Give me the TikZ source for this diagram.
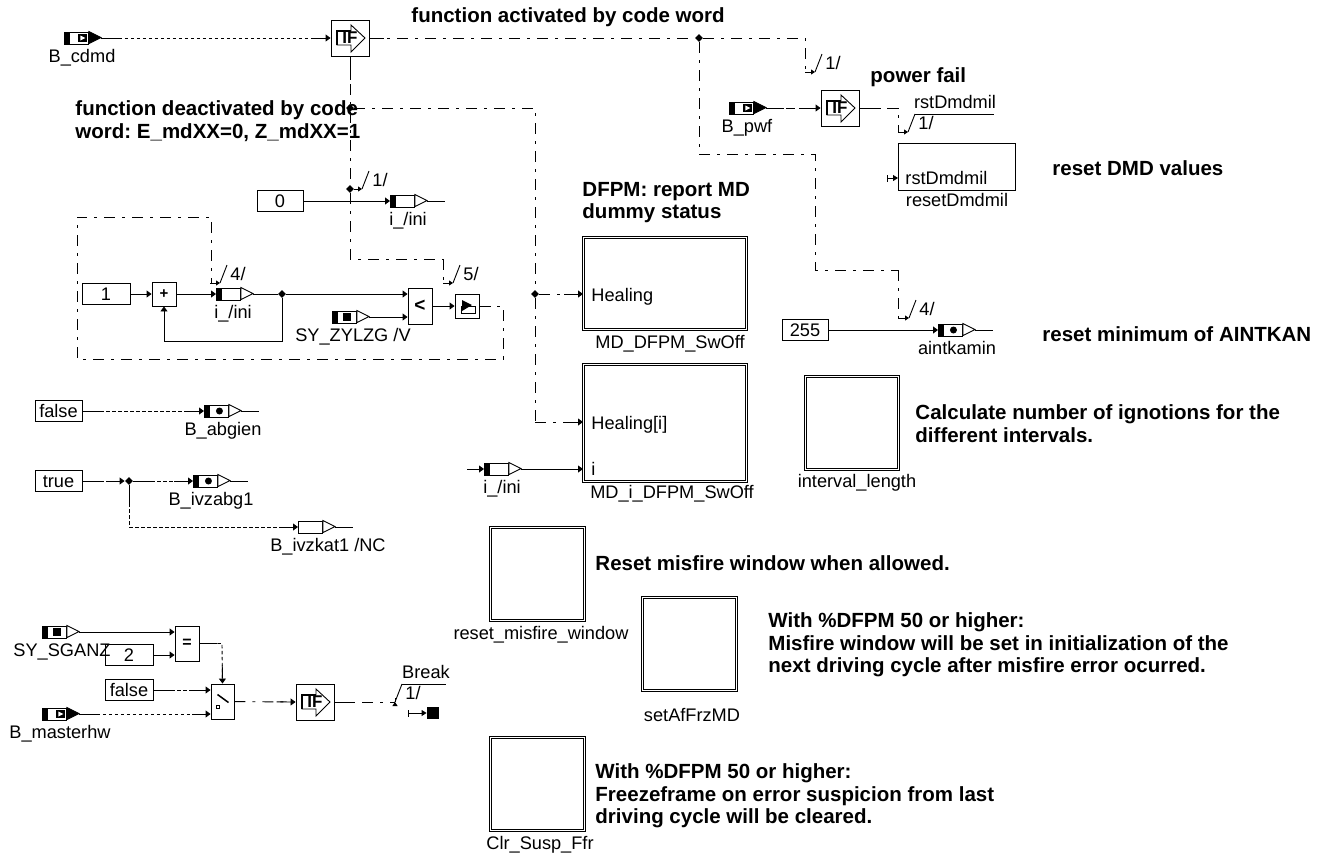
\documentclass[tikz,border=0pt]{standalone}
\usepackage{fontspec}
\setmainfont{Liberation Sans}
\usetikzlibrary{arrows.meta,shapes.geometric,calc}
\newcommand{\sigpin}[6][white]{%
  \node[pinbody] (#2) at (#3,#4) {};
  \draw[fill=#1] (#2.north east) -- ++(12,6) -- ++(-12,6) -- cycle;
  \coordinate (#2-out) at ($(#2.east)+(12,0)$);
  \coordinate (#2-tail) at ($(#2.east)+(30,0)$);
  \node[lbl] (#2-lbl) at (#5,#4+18) {#6};
}
\newcommand{\barmark}[1]{\fill (#1.north west) rectangle ($(#1.south west)+(6,0)$);}
\newcommand{\dotmark}[1]{\fill ($(#1.center)+(3,0)$) circle (3.5pt);}
\newcommand{\sqmark}[1]{\fill ($(#1.center)+(-1,-4)$) rectangle ++(8,8);}
\newcommand{\tipmark}[1]{\fill ($(#1.center)+(2,-4)$) rectangle ++(9,8);
  \fill[white] ($(#1.center)+(4,-2.5)$) -- ++(5,2.5) -- ++(-5,2.5) -- cycle;}
\newcommand{\ifblk}[3]{%
  \node[opblk, minimum width=38pt, minimum height=36pt] (#1) at (#2,#3) {};
  \draw[fill=white] ($(#1)+(-13,-7)$) -- ++(14,0) -- ++(0,-6) -- ++(14,13)
    -- ++(-14,14) -- ++(0,-7) -- ++(-14,0) -- cycle;
  \draw[line width=1.6pt] ($(#1)+(-13,7)$) -- ++(0,-14) -- ++(14,0);
  \node[font=\fontsize{17}{19}\bfseries\selectfont, inner sep=0pt] (#1-txt) at (#1) {IF};
}
\newcommand{\busmark}[4]{%
  \coordinate (#1) at (#2,#3);
  \draw (#1) -- ++(7,-18);
  \node[lbl] (#1-txt) at (#2+18,#3-9) {#4};
}
\tikzset{
  solidhead/.style={postaction={draw, solid, -, dash pattern=on #1 off 5000pt}},
  sig/.style={-{Triangle[length=5pt,width=7pt]}},
  dotline/.style={dash pattern=on 3.5pt off 2.5pt, solidhead=18pt,
    -{Square[length=14pt,width=.9pt,line width=0pt]Triangle[length=5pt,width=7pt]}},
  ctrl/.style={dash pattern=on 11pt off 7pt on 3pt off 7pt},
  ctrlin/.style={ctrl,
    -{Square[length=14pt,width=.9pt,line width=0pt]Triangle[length=5pt,width=7pt]}},
  ctrltick/.style={ctrl,
    -{Square[length=6pt,width=.9pt,line width=0pt]Triangle[length=4pt,width=5pt]}}
}
\begin{document}
\frenchspacing
\begin{tikzpicture}[x=1pt, y=-1pt, line width=.9pt,
  lbl/.style={font=\fontsize{18.2}{20}\selectfont, inner sep=0pt,
              text height=17pt, text depth=4pt},
  note/.style={font=\fontsize{20.5}{22.7}\bfseries\selectfont, inner sep=0pt,
               anchor=west, align=left},
  pinbody/.style={draw, fill=white, anchor=west, inner sep=0pt,
                  minimum width=24pt, minimum height=12pt},
  constblk/.style={draw, fill=white, inner sep=0pt, minimum height=21pt,
                   text height=17pt, text depth=4pt,
                   font=\fontsize{18.2}{20}\selectfont},
  opblk/.style={draw, fill=white, inner sep=0pt, font=\fontsize{19}{20}\bfseries\selectfont},
  subsys/.style={draw, fill=white, double, double distance=1pt, anchor=north west,
                 inner sep=0pt},
  port/.style={font=\fontsize{18.2}{20}\selectfont, inner sep=0pt, anchor=west,
               text height=17pt, text depth=4pt},
  junc/.style={diamond, fill, inner sep=0pt, minimum size=8pt}
]
\useasboundingbox (0,0) rectangle (1323,855);

% junctions and corners
\node[junc] (jtop)  at (699,38)  {};
\node[junc] (jfun)  at (350,108) {};
\node[junc] (jini)  at (350,189) {};
\node[junc] (jheal) at (535,294) {};
\node[junc] (jcnt)  at (282,294) {};
\node[junc] (jtrue) at (129,481) {};
\foreach \nm/\px/\py in {c1/805/38, c2/805/72, c3/699/154, c4/815/154, c5/815/270,
  c6/898/270, c7/898/318, c8/350/259, c9/443/259, c10/443/283, c11/535/108,
  c12/535/422, c13/503/306, c14/503/359, c15/77/359, c16/77/217, c17/211/217,
  c18/211/283, c19/282/341, c20/164/341, c21/129/527, c22/222/643.5,
  c23/898/108, c24/898/132, c25/395/702}
  \coordinate (\nm) at (\px,\py);

% blocks
\ifblk{ifcd}{350}{38}
\ifblk{ifpwf}{840}{108}
\ifblk{ifbrk}{315}{702}
\node[constblk, minimum width=46pt] (czero) at (280,201) {0};
\node[constblk, minimum width=48pt] (cone)  at (106,294) {1};
\node[constblk, minimum width=46pt] (cmax)  at (805,330) {255};
\node[constblk, minimum width=47pt] (cfalse) at (58.5,411) {false};
\node[constblk, minimum width=47pt] (ctrue)  at (58.5,481) {true};
\node[constblk, minimum width=48pt] (ctwo)   at (129,655) {2};
\node[constblk, minimum width=48pt] (cfals2) at (129,690) {false};
\node[opblk, minimum width=24pt, minimum height=24pt, font=\fontsize{15}{16}\bfseries\selectfont] (plus) at (164,294) {+};
\node[opblk, minimum width=24pt, minimum height=36pt] (lt)   at (420,306) {<};
\node[opblk, minimum width=24pt, minimum height=24pt] (lat)  at (467,306) {};
\node[opblk, minimum width=24pt, minimum height=35pt, font=\fontsize{16}{16}\bfseries\selectfont] (eq) at (187,643.5) {=};
\node[opblk, minimum width=23pt, minimum height=35pt] (swi)  at (222.5,701.5) {};
\draw ($(lat)+(-6,0)$) rectangle ++(14,7);
\fill ($(lat)+(-5,-6)$) -- ++(10,5) -- ++(-10,6) -- cycle;
\draw[line width=1.5pt] ($(swi)+(-5,-7)$) -- ++(11,8);
\draw ($(swi)+(-6,4)$) rectangle ++(3,3);
\node[subsys, minimum width=163pt, minimum height=92pt]  (mdsw)  at (583,237) {};
\node[subsys, minimum width=163pt, minimum height=117pt] (mdi)   at (583,364) {};
\node[subsys, minimum width=93pt, minimum height=93pt]   (intv)  at (805,376) {};
\node[subsys, minimum width=94pt, minimum height=93pt]   (rmw)   at (490,527) {};
\node[subsys, minimum width=94pt, minimum height=93pt]   (saf)   at (642,597) {};
\node[subsys, minimum width=94pt, minimum height=93pt]   (clr)   at (490,737) {};
\node[draw, fill=white, anchor=north west, minimum width=117pt, minimum height=47pt,
      inner sep=0pt] (rst) at (898,143) {};
\node[port] (rst-in)  at (905,178) {rstDmdmil};
\node[port] (mdsw-in) at (591,295) {Healing};
\node[port] (mdi-in)  at (591,423) {Healing[i]};
\node[port] (mdi-i)   at (591,469) {i};
\node[lbl] (mdsw-lbl) at (670,342) {MD\_DFPM\_SwOff};
\node[lbl] (mdi-lbl)  at (672,492) {MD\_i\_DFPM\_SwOff};
\node[lbl] (intv-lbl) at (857,481) {interval\_length};
\node[lbl] (rmw-lbl)  at (541,633) {reset\_misfire\_window};
\node[lbl] (saf-lbl)  at (692,715) {setAfFrzMD};
\node[lbl] (clr-lbl)  at (540,843) {Clr\_Susp\_Ffr};
\node[lbl] (rst-lbl)  at (957,200) {resetDmdmil};

% pins
\sigpin[black]{bcdmd}{64}{38}{82}{B\_cdmd} \barmark{bcdmd} \tipmark{bcdmd}
\sigpin[black]{bpwf}{729}{108}{747}{B\_pwf} \barmark{bpwf} \tipmark{bpwf}
\sigpin[black]{bmast}{42}{714}{60}{B\_masterhw} \barmark{bmast} \tipmark{bmast}
\sigpin{inione}{390}{201}{408}{i\_/ini} \barmark{inione}
\sigpin{inicnt}{216}{294}{233}{i\_/ini} \barmark{inicnt}
\sigpin{inihl}{484}{469}{502}{i\_/ini} \barmark{inihl}
\sigpin{syzyl}{332}{317}{353}{SY\_ZYLZG /V} \barmark{syzyl} \sqmark{syzyl}
\sigpin{sysga}{42}{632}{62}{SY\_SGANZ} \barmark{sysga} \sqmark{sysga}
\sigpin{babg}{204}{411}{223}{B\_abgien} \barmark{babg} \dotmark{babg}
\sigpin{bivz}{193}{481}{211}{B\_ivzabg1} \barmark{bivz} \dotmark{bivz}
\sigpin{bkat}{298}{527}{328}{B\_ivzkat1 /NC}
\sigpin{aint}{938}{330}{957}{aintkamin} \barmark{aint} \dotmark{aint}
\foreach \src in {inione,babg,bivz,bkat,aint}
  \draw (\src-out) -- (\src-tail);
\coordinate (inihl-from) at (467,469);
\draw[sig] (inihl-from) -- (inihl.west);

% bus marks
\busmark{tone}{815}{72}{1/}
\busmark{tini}{362}{189}{1/}
\busmark{tcnt}{220}{283}{4/}
\busmark{tlat}{453}{283}{5/}
\busmark{tmax}{909}{318}{4/}
\busmark{trst}{908}{132}{1/}
\busmark{tbrk}{395}{702}{1/}
\coordinate (trst-end) at (994,114);
\coordinate (tbrk-end) at (446,684);
\draw ($(trst)+(7,-18)$) -- (trst-end);
\draw ($(tbrk)+(7,-18)$) -- (tbrk-end);
\node[lbl] (trst-lbl) at (955,102) {rstDmdmil};
\node[lbl] (tbrk-lbl) at (426,672) {Break};

% connectors
\draw[dotline] (bcdmd-out) -- (ifcd.west);
\draw[ctrl, solidhead=15pt] (ifcd.east) -- (jtop);
\draw[ctrltick] (jtop) -- (c1) -- (c2) -- (tone);
\draw[ctrl] (jtop) -- (c3) -- (c4) -- (c5) -- (c6);
\draw[ctrltick] (c6) -- (c7) -- (tmax);
\draw[dotline, dash pattern=on 9pt off 4pt on 3pt off 4pt] (bpwf-out) -- (ifpwf.west);
\draw[ctrl, solidhead=22pt] (ifpwf.east) -- (c23) -- (c24);
\draw[-{Triangle[length=4pt,width=5pt]}] (c24) -- (trst);
\draw[ctrl, solidhead=24pt] (ifcd.south) -- (jfun);
\draw[ctrl] (jfun) -- (jini);
\draw[ctrl] (jini) -- (c8) -- (c9);
\draw[ctrltick] (c9) -- (c10) -- (tlat);
\draw[-{Triangle[length=4pt,width=5pt]}] (jini) -- (tini);
\draw[ctrl] (jfun) -- (c11) -- (jheal);
\draw[ctrlin] (jheal) -- (mdsw.west |- jheal);
\draw[ctrl] (jheal) -- (c12);
\draw[ctrlin] (c12) -- (mdi.west |- c12);
\draw[sig] (inihl-out) -- (mdi.west |- inihl-out);
\draw[sig] (czero) -- (inione.west);
\draw[sig] (cone) -- (plus);
\draw[sig] (plus) -- (inicnt.west);
\draw (inicnt-out) -- (jcnt);
\draw[sig] (jcnt) -- (lt.west |- jcnt);
\draw[sig] (syzyl-out) -- (lt.west |- syzyl-out);
\draw[sig] (lt) -- (lat);
\draw[sig] (jcnt) -- (c19) -- (c20) -- (plus);
\draw[ctrl, solidhead=12pt] (lat.east) -- (c13) -- (c14) -- (c15) -- (c16) -- (c17) -- (c18);
\draw[ctrltick] (c18) -- (tcnt);
\draw[sig] (cmax.east) -- (aint.west);
\draw[dotline] (cfalse) -- (babg.west);
\draw[dotline] (ctrue) -- (jtrue);
\draw[dotline] (jtrue) -- (bivz.west);
\draw[dotline] (jtrue) -- (c21) -- (bkat.west);
\draw[sig] (sysga-out) -- (eq.west |- sysga-out);
\draw[sig] (ctwo) -- (eq.west |- ctwo);
\draw[dotline] (eq.east) -- (c22) -- (swi.north);
\draw[dotline] (cfals2) -- (swi.west |- cfals2);
\draw[dotline] (bmast-out) -- (swi.west |- bmast-out);
\draw[ctrlin] (swi) -- (ifbrk.west);
\draw[ctrl, solidhead=20pt] (ifbrk.east) -- (c25);
\draw[-{Triangle[length=4pt,width=5pt]}] (c25) -- (tbrk);

% loose ports
\coordinate (rstin-from) at (887,178);
\draw[{Bar[width=7pt,length=0pt]}-{Triangle[length=5pt,width=6pt]}] (rstin-from) -- (rst.west |- rstin-from);
\node[fill, minimum size=12pt, inner sep=0pt] (brksq) at (433,713) {};
\coordinate (brk-from) at (408,713);
\draw[{Bar[width=7pt,length=0pt]}-{Triangle[length=5pt,width=6pt]}] (brk-from) -- (brksq);

% comments
\node[note] (n1)  at (411,17)  {function activated by code word};
\node[note] (n2)  at (75,121)  {function deactivated by code\\word: E\_mdXX=0, Z\_mdXX=1};
\node[note] (n3)  at (870,77)  {power fail};
\node[note] (n4)  at (1052,168) {reset DMD values};
\node[note] (n5)  at (582,202.5) {DFPM: report MD\\dummy status};
\node[note] (n6)  at (1042,334) {reset minimum of AINTKAN};
\node[note] (n7)  at (915,423.5) {Calculate number of ignotions for the\\different intervals.};
\node[note] (n8)  at (595,563) {Reset misfire window when allowed.};
\node[note] (n9)  at (768,645) {With \%DFPM 50 or higher:\\Misfire window will be set in initialization of the\\next driving cycle after misfire error ocurred.};
\node[note] (n10) at (595,796) {With \%DFPM 50 or higher:\\Freezeframe on error suspicion from last\\driving cycle will be cleared.};
\end{tikzpicture}
\end{document}
